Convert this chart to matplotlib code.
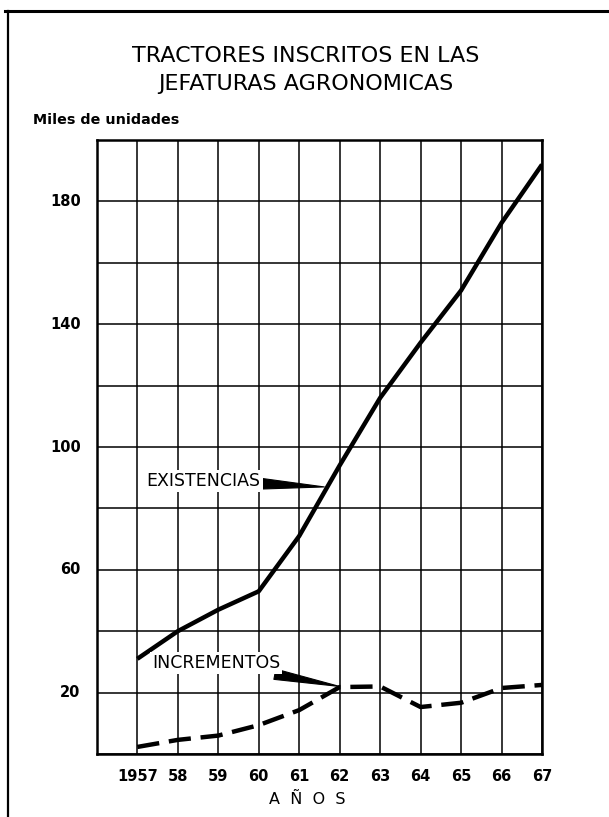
import numpy as np
import matplotlib
matplotlib.use('Agg')
import matplotlib.pyplot as plt
from matplotlib.lines import Line2D

# Tractores inscritos (miles de unidades)
anios = [1957, 1958, 1959, 1960, 1961, 1962, 1963, 1964, 1965, 1966, 1967]
etiquetas_x = ['1957', '58', '59', '60', '61', '62', '63', '64', '65', '66', '67']
existencias = [31, 40, 47, 53, 71, 94, 116, 134, 151, 173, 192]
incrementos = [2.3, 4.6, 6, 9.4, 14.3, 21.8, 22, 15.3, 16.7, 21.5, 22.5]
etiquetas_y = [20, 60, 100, 140, 180]

plt.rcParams['font.family'] = ['DejaVu Sans']

fig = plt.figure(figsize=(6.09, 8.17), dpi=100)
ax = fig.add_axes([0.159, 0.0771, 0.731, 0.7515])

ax.set_xlim(1956, 1967)
ax.set_ylim(0, 200)
ax.set_xticks(np.arange(1956, 1968))
ax.set_yticks(np.arange(0, 201, 20))
ax.grid(True, color='black', linewidth=1.1)
ax.tick_params(length=0, labelleft=False, labelbottom=False)
for s in ax.spines.values():
    s.set_linewidth(1.8)
ax.set_axisbelow(True)

ax.plot(anios, existencias, color='black', linewidth=3.2, solid_capstyle='butt', zorder=3)
ax.plot(anios, incrementos, color='black', linewidth=3.2, dashes=(5, 2.2), zorder=3)

# etiquetas de ejes
for x, t in zip(anios, etiquetas_x):
    ax.text(x, -5, t, ha='center', va='top', fontsize=10.5, fontweight='bold')
for y in etiquetas_y:
    ax.text(1955.6, y, str(y), ha='right', va='center', fontsize=10.5, fontweight='bold')
ax.text(1961.2, -12.5, 'A  Ñ  O  S', ha='center', va='top', fontsize=11.5)

# anotaciones con flecha en cuña
flecha = dict(arrowstyle='wedge,tail_width=0.6,shrink_factor=0.5',
              fc='black', ec='black', lw=0.8, shrinkA=0, shrinkB=0)
caja = dict(boxstyle='square,pad=0.12', fc='white', ec='none')
ax.annotate('EXISTENCIAS', xy=(1961.62, 87), xytext=(1958.64, 89),
            ha='center', va='center', fontsize=12.5, bbox=caja, arrowprops=flecha)
ax.annotate('INCREMENTOS', xy=(1962, 22), xytext=(1958.95, 29.6),
            ha='center', va='center', fontsize=12.5, bbox=caja, arrowprops=flecha)

# títulos
fig.text(0.502, 0.931, 'TRACTORES INSCRITOS EN LAS', ha='center', va='center', fontsize=16)
fig.text(0.502, 0.897, 'JEFATURAS AGRONOMICAS', ha='center', va='center', fontsize=16)
fig.text(0.054, 0.853, 'Miles de unidades', ha='left', va='center', fontsize=10.3,
         fontweight='bold')

# marco de página
fig.add_artist(Line2D([0.008, 1.0], [0.9865, 0.9865], color='black', linewidth=2.2))
fig.add_artist(Line2D([0.013, 0.013], [0.9865, 0.0], color='black', linewidth=1.6))

fig.savefig('out.png', dpi=100)
